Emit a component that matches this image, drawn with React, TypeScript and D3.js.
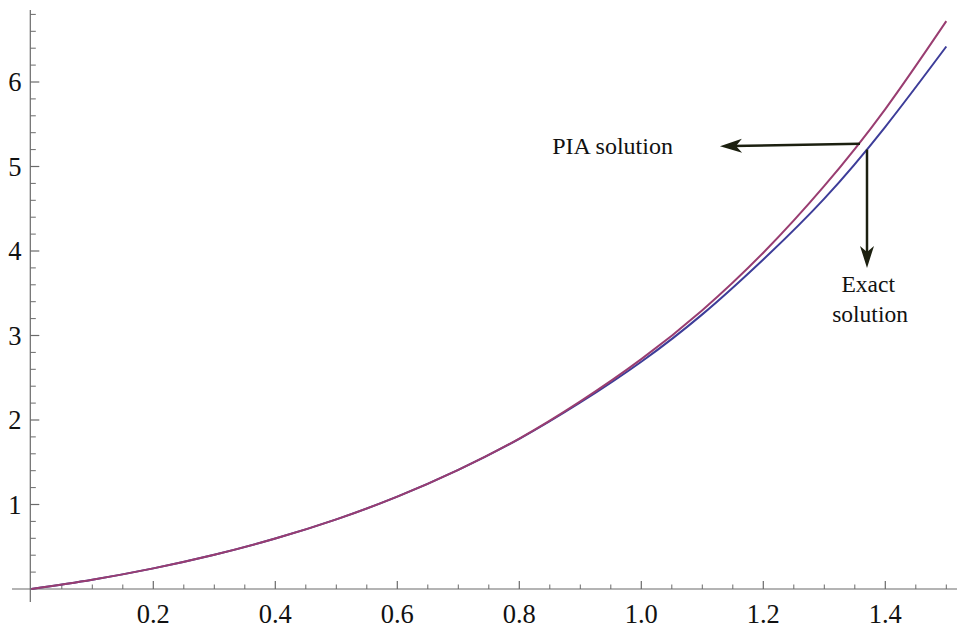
import React from "react";
import * as d3 from "d3";

// x samples
const xs = [0, 0.1, 0.2, 0.3, 0.4, 0.5, 0.6, 0.7, 0.8, 0.9, 1.0, 1.1, 1.2, 1.3, 1.4, 1.5];
// PIA solution (upper, purple)
const piaValues = [0, 0.11, 0.244, 0.405, 0.597, 0.824, 1.093, 1.41, 1.78, 2.22, 2.72, 3.3, 3.98, 4.77, 5.68, 6.72];
// Exact solution (lower, blue)
const exactValues = [0, 0.11, 0.244, 0.405, 0.597, 0.824, 1.093, 1.41, 1.777, 2.207, 2.69, 3.25, 3.9, 4.62, 5.47, 6.42];

const xMajorTicks = [0.2, 0.4, 0.6, 0.8, 1.0, 1.2, 1.4];
const xMinorTicks = [0.05, 0.1, 0.15, 0.25, 0.3, 0.35, 0.45, 0.5, 0.55, 0.65, 0.7, 0.75, 0.85, 0.9, 0.95, 1.05, 1.1, 1.15, 1.25, 1.3, 1.35, 1.45, 1.5];
const yMajorTicks = [1, 2, 3, 4, 5, 6];
const yMinorTicks = [0.2, 0.4, 0.6, 0.8, 1.2, 1.4, 1.6, 1.8, 2.2, 2.4, 2.6, 2.8, 3.2, 3.4, 3.6, 3.8, 4.2, 4.4, 4.6, 4.8, 5.2, 5.4, 5.6, 5.8, 6.2, 6.4, 6.6, 6.8];

const W = 957;
const H = 635;
const FONT = "'Liberation Serif', 'Times New Roman', serif";
const PURPLE = "#993d71";
const BLUE = "#3d3d99";
const ARROW = "#1c2010";
const AXIS = "#6a6a6a";

const x = d3.scaleLinear().domain([0, 1.5]).range([31.3, 946.3]);
const y = d3.scaleLinear().domain([0, 6]).range([589, 82]);

function Arrow({ x1, y1, x2, y2 }: { x1: number; y1: number; x2: number; y2: number }) {
  const a = Math.atan2(y2 - y1, x2 - x1);
  const ang = (a * 180) / Math.PI;
  return (
    <g>
      <line x1={x1} y1={y1} x2={x2 - 12 * Math.cos(a)} y2={y2 - 12 * Math.sin(a)} stroke={ARROW} strokeWidth={2.5} />
      <path d="M0,0 L-22,-7 L-16,0 L-22,7 Z" fill={ARROW} transform={`translate(${x2},${y2}) rotate(${ang})`} />
    </g>
  );
}

export default function App() {
  const line = d3
    .line<number>()
    .x((_, i) => x(xs[i]))
    .y((d) => y(d))
    .curve(d3.curveNatural);

  return (
    <svg width={W} height={H} style={{ position: "absolute", left: 0, top: 0, background: "#fff" }}>
      <rect x={0} y={0} width={W} height={H} fill="#fff" />
      {/* axes */}
      <line x1={12} y1={y(0)} x2={W} y2={y(0)} stroke={AXIS} strokeWidth={1.2} />
      <line x1={x(0) - 1} y1={10} x2={x(0) - 1} y2={602} stroke={AXIS} strokeWidth={1.2} />
      {xMajorTicks.map((t) => (
        <g key={"xM" + t}>
          <line x1={x(t)} x2={x(t)} y1={y(0)} y2={y(0) - 8} stroke={AXIS} strokeWidth={1.2} />
          <text x={x(t)} y={623} textAnchor="middle" fontFamily={FONT} fontSize={26.5} fill="#111">
            {t.toFixed(1)}
          </text>
        </g>
      ))}
      {xMinorTicks.map((t) => (
        <line key={"xm" + t} x1={x(t)} x2={x(t)} y1={y(0)} y2={y(0) - 4.5} stroke={AXIS} strokeWidth={1} />
      ))}
      {yMajorTicks.map((t) => (
        <g key={"yM" + t}>
          <line x1={x(0) - 1} x2={x(0) + 8} y1={y(t)} y2={y(t)} stroke={AXIS} strokeWidth={1.2} />
          <text x={21.5} y={y(t)} dy="0.35em" textAnchor="end" fontFamily={FONT} fontSize={26.5} fill="#111">
            {t}
          </text>
        </g>
      ))}
      {yMinorTicks.map((t) => (
        <line key={"ym" + t} x1={x(0) - 1} x2={x(0) + 4.5} y1={y(t)} y2={y(t)} stroke={AXIS} strokeWidth={1} />
      ))}
      {/* curves */}
      <path d={line(exactValues) || ""} fill="none" stroke={BLUE} strokeWidth={2} />
      <path d={line(piaValues) || ""} fill="none" stroke={PURPLE} strokeWidth={2} />
      {/* annotations */}
      <Arrow x1={x(1.3585)} y1={y(5.27)} x2={x(1.129)} y2={y(5.24)} />
      <Arrow x1={x(1.37)} y1={y(5.2)} x2={x(1.37)} y2={y(3.8)} />
      <text x={x(0.854)} y={y(5.15)} fontFamily={FONT} fontSize={24} fill="#111">
        PIA solution
      </text>
      <text x={x(1.372)} y={y(3.51)} textAnchor="middle" fontFamily={FONT} fontSize={23.5} fill="#111">
        Exact
      </text>
      <text x={x(1.375)} y={y(3.16)} textAnchor="middle" fontFamily={FONT} fontSize={23.5} fill="#111">
        solution
      </text>
    </svg>
  );
}
